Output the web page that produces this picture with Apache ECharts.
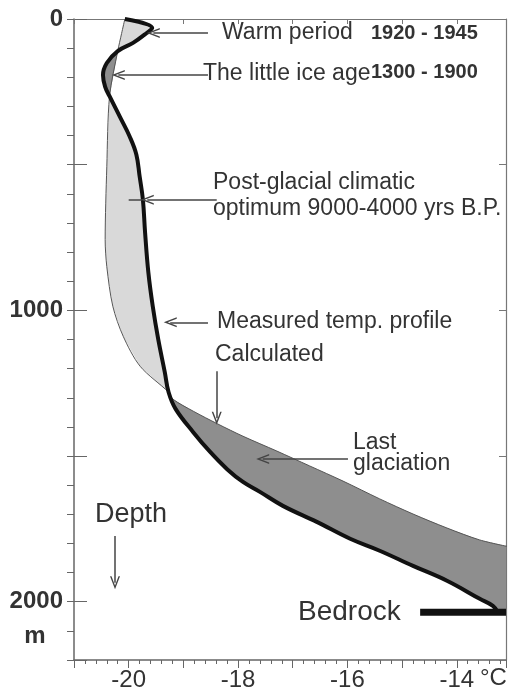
<!DOCTYPE html>
<html><head><meta charset="utf-8">
<script src="https://cdn.jsdelivr.net/npm/echarts@6/dist/echarts.min.js"></script>
<style>html,body{margin:0;padding:0;background:#fff}#c{width:510px;height:692px}</style>
</head><body><div id="c"></div>
<script>
// ---- data ----
const tempTicks = [-20, -18, -16, -14];
const depthTicks = [0, 1000, 2000];
const xMin = -21, xMax = -13.1, yMin = 0, yMax = 2200;

// Calculated temperature profile (°C) vs depth (m)
const calcTemp  = [-20.07, -20.13, -20.20, -20.35, -20.40, -20.43, -20.40, -20.29, -20.10, -19.79, -19.27, -19.19, -18.82, -18.37, -17.91, -17.29, -16.69, -16.08, -15.41, -14.80, -14.18, -13.58, -13.03];
const calcDepth = [0, 50, 110, 265, 507, 757, 850, 986, 1089, 1192, 1281, 1305, 1346, 1390, 1432, 1483, 1534, 1586, 1647, 1699, 1747, 1788, 1812];

// Measured temperature profile (°C) vs depth (m)
const measTemp  = [-20.07, -19.57, -19.67, -19.92, -20.20, -20.40, -20.47, -20.43, -20.35, -20.16, -19.98, -19.86, -19.80, -19.74, -19.70, -19.64, -19.56, -19.46, -19.34, -19.27, -19.14, -18.82, -18.51, -18.20, -17.91, -17.60, -17.18, -16.56, -15.95, -15.41, -14.80, -14.18, -13.58, -13.34, -13.25];
const measDepth = [0, 31, 48, 82, 110, 151, 192, 233, 265, 336, 404, 465, 540, 620, 733, 870, 986, 1099, 1212, 1281, 1339, 1418, 1486, 1545, 1589, 1623, 1671, 1726, 1784, 1825, 1877, 1928, 1990, 2014, 2036];

// depths where the two profiles cross
const crossDepths = [110, 265, 1281];

// bedrock
const bedrockTempStart = -14.67;
const bedrockDepth = 2036;

// annotation arrows in data space [temp, depth]
const arrowFrom = [[-18.55, 48], [-18.55, 192], [-18.39, 620], [-19.76, 620], [-18.55, 1041], [-18.39, 1209], [-15.99, 1510], [-20.25, 1774]];
const arrowTo   = [[-19.55, 48], [-20.19, 192], [-19.66, 620], [-20.00, 620], [-19.24, 1041], [-18.39, 1370], [-17.55, 1510], [-20.25, 1935]];
const arrowHead = [true, true, true, false, true, true, true, true];

// ---- build ----
const FONT = 'Liberation Sans, Arial, sans-serif';
const calcPts = calcTemp.map((t, i) => [t, calcDepth[i]]);
const measPts = measTemp.map((t, i) => [t, measDepth[i]]);

function calcAt(d) {
  for (let i = 0; i < calcPts.length - 1; i++) {
    const a = calcPts[i], b = calcPts[i + 1];
    if (d >= a[1] && d <= b[1]) return a[0] + (b[0] - a[0]) * (d - a[1]) / (b[1] - a[1]);
  }
  return calcPts[calcPts.length - 1][0];
}

const bounds = [0].concat(crossDepths).concat([Infinity]);
const segments = [];
for (let i = 0; i < bounds.length - 1; i++) {
  const a = bounds[i], b = bounds[i + 1];
  const c = calcPts.filter(p => p[1] >= a && p[1] <= b);
  const m = measPts.filter(p => p[1] >= a && p[1] <= b);
  const mid = m[Math.floor(m.length / 2)];
  const warmer = mid[0] > calcAt(mid[1]);
  let pts = c.slice();
  if (b === Infinity) {
    pts.push([xMax + 1, c[c.length - 1][1]]);
    pts.push([xMax + 1, bedrockDepth]);
  }
  pts = pts.concat(m.slice().reverse());
  segments.push({ pts: pts, color: warmer ? '#d9d9d9' : '#8e8e8e' });
}

const chevron = 'path://M0,14 L6,0 L12,14 L10.2,14 L6,4.2 L1.8,14 Z';

const axisCol = '#666';
const chart = echarts.init(document.getElementById('c'), null, { renderer: 'canvas' });

function txt(text, x, y, size, weight) {
  return { type: 'text', x: x, y: y, silent: true, z: 100,
    style: { text: text, fontSize: size, fontFamily: FONT, fontWeight: weight || 'normal', fill: '#333', verticalAlign: 'middle', align: 'left' } };
}

chart.setOption({
  animation: false,
  backgroundColor: '#fff',
  grid: { left: 74, right: 4, top: 19, bottom: 31 },
  xAxis: [
    { type: 'value', position: 'bottom', min: xMin, max: xMax, interval: 0.2,
      axisLine: { onZero: false, lineStyle: { color: axisCol, width: 1.5 } },
      axisTick: { length: 4, lineStyle: { color: axisCol } },
      axisLabel: { margin: 8, fontSize: 24, color: '#333', fontFamily: FONT,
        formatter: v => { const r = Math.round(v * 10) / 10; return tempTicks.includes(r) ? String(r) : ''; } },
      splitLine: { show: false } },
    { type: 'value', position: 'top', min: xMin, max: xMax, interval: 1,
      axisLine: { onZero: false, lineStyle: { color: '#777', width: 1.2 } },
      axisTick: { inside: true, length: 5, lineStyle: { color: '#777' } },
      axisLabel: { show: false }, splitLine: { show: false } },
    { type: 'value', position: 'bottom', min: xMin, max: xMax, interval: 1,
      axisLine: { show: false, onZero: false },
      axisTick: { length: 8, lineStyle: { color: axisCol } },
      axisLabel: { show: false }, splitLine: { show: false } }
  ],
  yAxis: [
    { type: 'value', inverse: true, position: 'left', min: yMin, max: yMax, interval: 100,
      axisLine: { onZero: false, lineStyle: { color: axisCol, width: 1.5 } },
      axisTick: { length: 7, lineStyle: { color: axisCol } },
      axisLabel: { margin: 11, fontSize: 24, fontWeight: 'bold', color: '#333', fontFamily: FONT,
        formatter: v => depthTicks.includes(v) ? String(v) : '' },
      splitLine: { show: false } },
    { type: 'value', inverse: true, position: 'left', min: yMin, max: yMax, interval: 500,
      axisLine: { show: false, onZero: false },
      axisTick: { inside: true, length: 13, lineStyle: { color: axisCol } },
      axisLabel: { show: false }, splitLine: { show: false } },
    { type: 'value', inverse: true, position: 'right', min: yMin, max: yMax, interval: 500,
      axisLine: { onZero: false, lineStyle: { color: '#777', width: 1.2 } },
      axisTick: { inside: true, length: 7, lineStyle: { color: '#777' } },
      axisLabel: { show: false }, splitLine: { show: false } }
  ],
  series: [
    { type: 'custom', name: 'fill', clip: true, z: 1, silent: true,
      data: [[xMin, yMin]],
      encode: { x: 0, y: 1 },
      renderItem: function (params, api) {
        return { type: 'group', children: segments.map(s => ({
          type: 'polygon', shape: { points: s.pts.map(p => api.coord(p)) },
          style: { fill: s.color, stroke: null } })) };
      } },
    { type: 'line', name: 'Calculated', data: calcPts, smooth: 0.3, symbol: 'none', z: 2, silent: true,
      lineStyle: { color: '#555', width: 1 },
      markLine: { silent: true, animation: false, symbol: ['none', chevron], symbolSize: [10, 13],
        label: { show: false }, lineStyle: { color: '#444', width: 1.5, type: 'solid' },
        emphasis: { disabled: true },
        data: arrowFrom.map((f, i) => [ { coord: f, symbol: 'none' }, { coord: arrowTo[i], symbol: arrowHead[i] ? chevron : 'none' } ]) } },
    { type: 'line', name: 'Measured', data: measPts, smooth: 0.4, symbol: 'none', z: 3, silent: true,
      lineStyle: { color: '#111', width: 4 } },
    { type: 'line', name: 'Bedrock', data: [[bedrockTempStart, bedrockDepth], [xMax, bedrockDepth]], symbol: 'none', z: 3, silent: true,
      lineStyle: { color: '#111', width: 7 } }
  ],
  graphic: [
    txt('Warm period', 222, 33, 23),
    txt('1920 - 1945', 371, 33.5, 20, 'bold'),
    txt('The little ice age', 203, 74, 23),
    txt('1300 - 1900', 371, 72, 20, 'bold'),
    txt('Post-glacial climatic', 213, 182.5, 23),
    txt('optimum 9000-4000 yrs B.P.', 213, 208.5, 23),
    txt('Measured temp. profile', 217, 321.5, 23),
    txt('Calculated', 215, 355, 23),
    txt('Last', 353, 442.5, 23),
    txt('glaciation', 353, 464, 23),
    txt('Depth', 95, 515, 27),
    txt('Bedrock', 298, 612, 28),
    { type: 'text', x: 35, y: 636, silent: true, style: { text: 'm', fontSize: 24, fontWeight: 'bold', fontFamily: FONT, fill: '#333', align: 'center', verticalAlign: 'middle' } },
    txt('°C', 480, 678, 24)
  ]
});
</script>
</body></html>
